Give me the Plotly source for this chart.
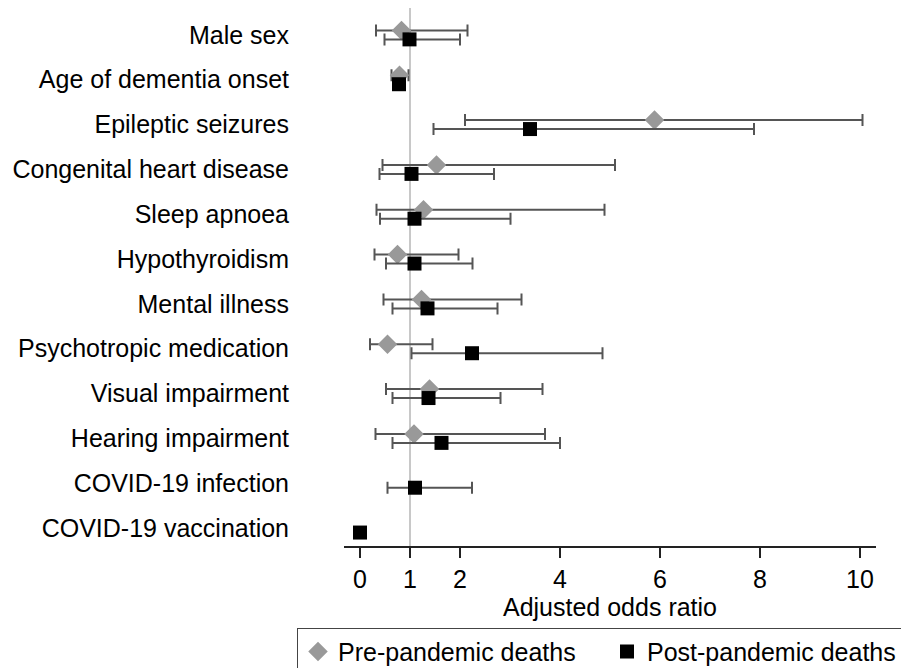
import numpy as np
import plotly.graph_objects as go

categories = ["Male sex", "Age of dementia onset", "Epileptic seizures",
              "Congenital heart disease", "Sleep apnoea", "Hypothyroidism",
              "Mental illness", "Psychotropic medication", "Visual impairment",
              "Hearing impairment", "COVID-19 infection", "COVID-19 vaccination"]

pre_or = [0.83, 0.79, 5.89, 1.53, 1.27, 0.75, 1.23, 0.55, 1.39, 1.08, None, None]
pre_lo = [0.32, 0.63, 2.10, 0.45, 0.33, 0.29, 0.47, 0.20, 0.52, 0.31, None, None]
pre_hi = [2.15, 0.97, 10.05, 5.10, 4.89, 1.97, 3.23, 1.45, 3.65, 3.70, None, None]

post_or = [0.99, 0.78, 3.40, 1.03, 1.09, 1.09, 1.35, 2.24, 1.37, 1.63, 1.10, 0.00]
post_lo = [0.49, 0.68, 1.47, 0.39, 0.40, 0.52, 0.65, 1.03, 0.65, 0.65, 0.55, None]
post_hi = [2.00, 0.90, 7.88, 2.68, 3.01, 2.25, 2.75, 4.85, 2.81, 4.00, 2.24, None]

x_ticks = [0, 1, 2, 4, 6, 8, 10]

def arr(v):
    return np.array([np.nan if a is None else a for a in v], dtype=float)

rows = np.arange(len(categories))
FONT = "Liberation Sans, Arial, sans-serif"

p, pl, ph = arr(pre_or), arr(pre_lo), arr(pre_hi)
q, ql, qh = arr(post_or), arr(post_lo), arr(post_hi)

fig = go.Figure()
fig.add_shape(type="line", xref="x", yref="paper", x0=1, x1=1, y0=0, y1=1,
              line=dict(color="#c8c8c8", width=2), layer="below")

fig.add_trace(go.Scatter(
    x=p, y=rows - 0.1, mode="markers", name="Pre-pandemic deaths",
    marker=dict(symbol="diamond", size=15, color="#999999"),
    error_x=dict(type="data", symmetric=False, array=ph - p, arrayminus=p - pl,
                 color="#555555", thickness=2, width=6),
))
fig.add_trace(go.Scatter(
    x=q, y=rows + 0.1, mode="markers", name="Post-pandemic deaths",
    marker=dict(symbol="square", size=14, color="#000000"),
    error_x=dict(type="data", symmetric=False, array=qh - q, arrayminus=q - ql,
                 color="#555555", thickness=2, width=6),
))

fig.update_layout(
    width=909, height=668,
    margin=dict(l=336, r=41, t=0, b=128),
    paper_bgcolor="white", plot_bgcolor="white",
    font=dict(family=FONT, size=25, color="black"),
    showlegend=True,
    legend=dict(orientation="h", xref="paper", yref="paper",
                x=-0.0714, xanchor="left", y=-0.152, yanchor="top",
                bordercolor="#444444", borderwidth=1, font=dict(size=25),
                entrywidth=264, entrywidthmode="pixels", traceorder="normal"),
    xaxis=dict(range=[-0.32, 10.32], tickvals=x_ticks, ticktext=[str(t) for t in x_ticks],
               showgrid=False, zeroline=False, showline=True, linecolor="#222222",
               linewidth=2, ticks="outside", ticklen=10, tickwidth=1.5, tickcolor="#222222",
               title=dict(text="Adjusted odds ratio", standoff=0, font=dict(size=25)),
               tickfont=dict(size=25)),
    yaxis=dict(range=[11.4, -0.6], tickvals=rows, ticktext=categories,
               showgrid=False, zeroline=False, showline=False, ticks="",
               ticklabelstandoff=54, tickfont=dict(size=25)),
)

fig.write_html("out.html")
